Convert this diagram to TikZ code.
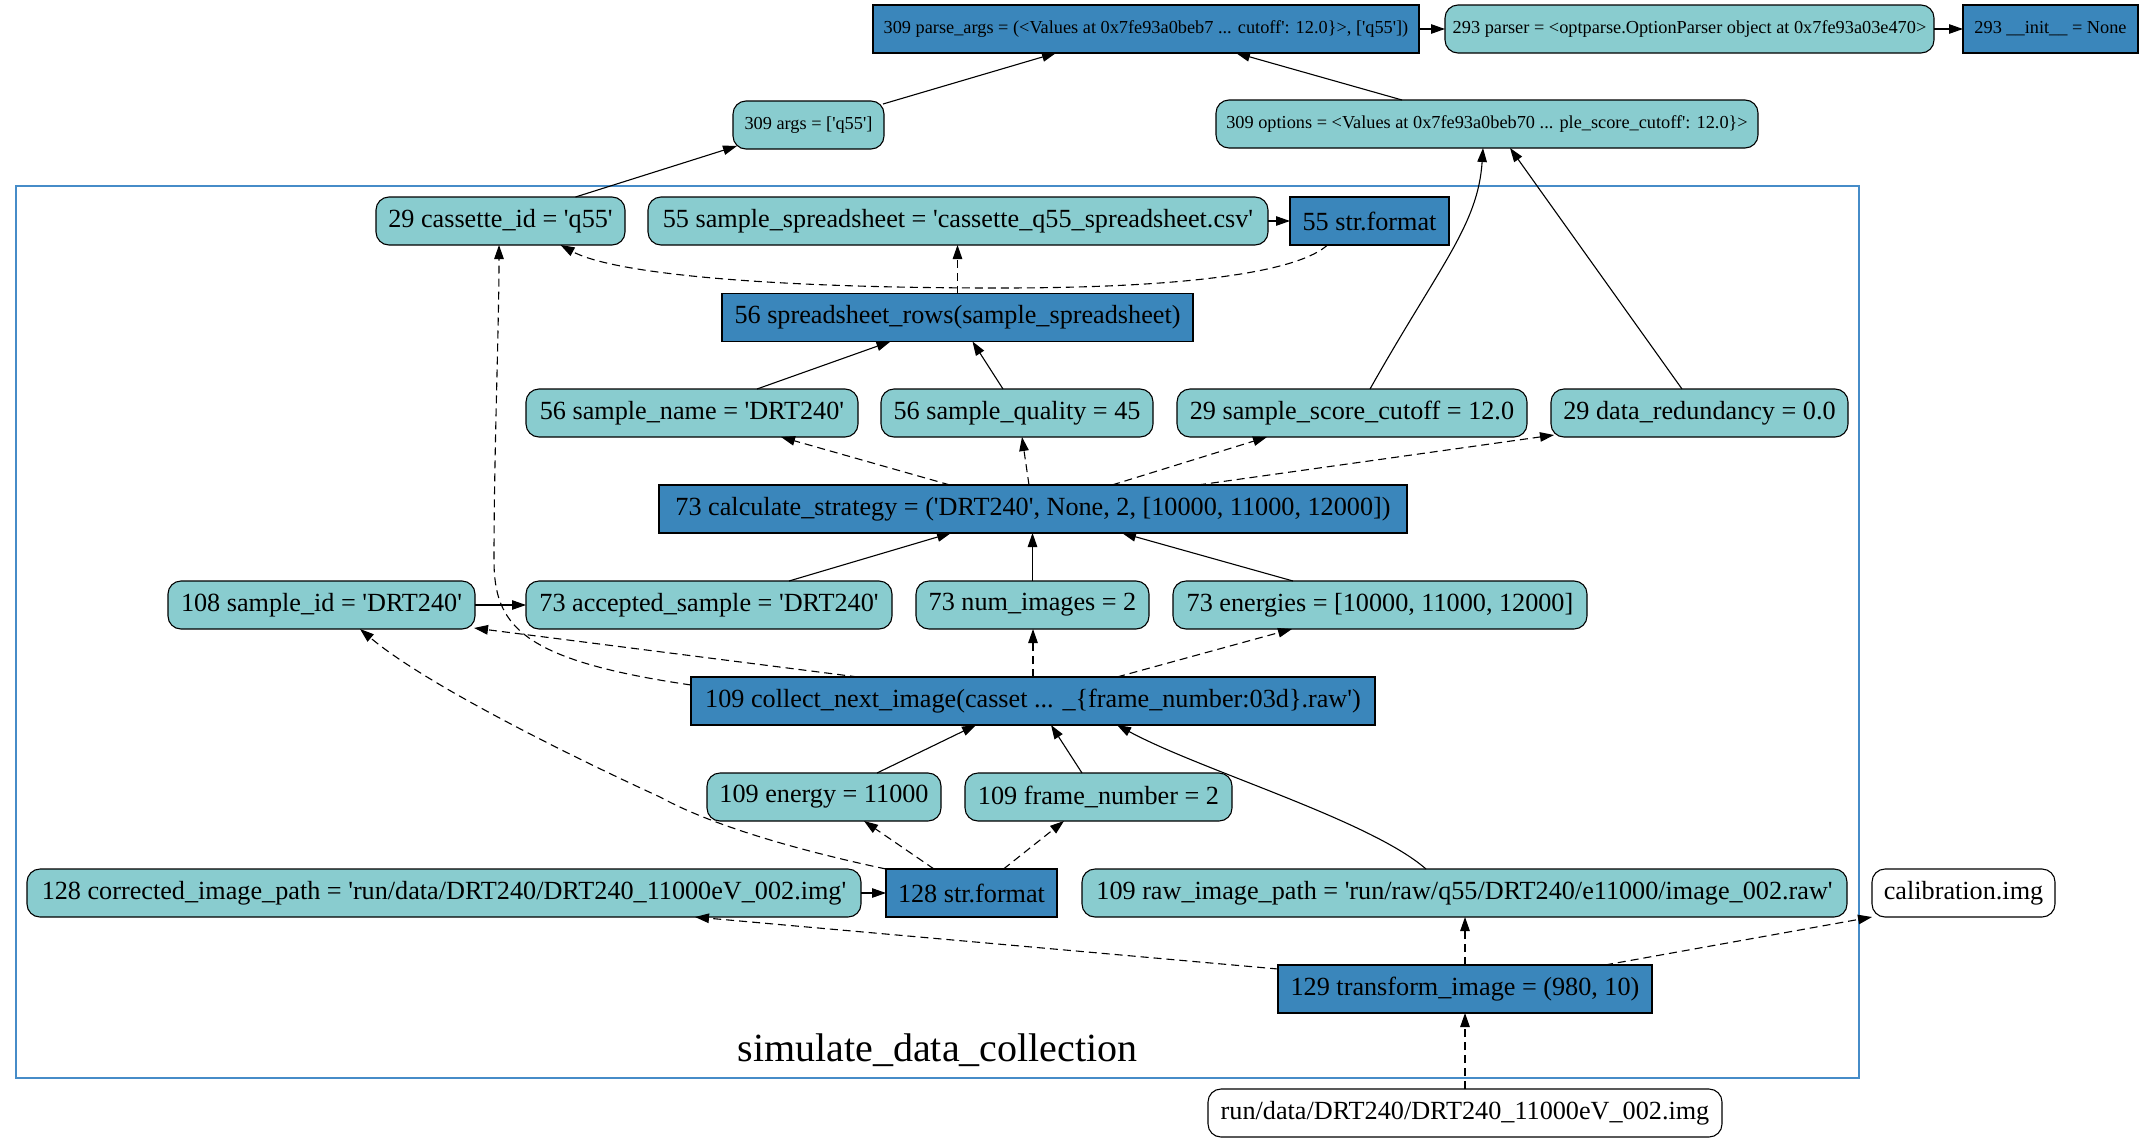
\documentclass[tikz,border=0pt]{standalone}
\usepackage{fontspec}
\setmainfont{Liberation Serif}
\usetikzlibrary{arrows.meta,calc}
\newcommand\q{\textquotesingle}
\newcommand\nfont{\fontsize{26.2}{30}\selectfont}
\newcommand\sfont{\fontsize{18.3}{21}\selectfont}
\newcommand\lfont{\fontsize{40}{46}\selectfont}
\definecolor{tealc}{RGB}{137,204,207}
\definecolor{bluec}{RGB}{58,134,187}
\definecolor{clustc}{RGB}{70,140,200}
\tikzset{
  nd/.style={draw=black, line width=1.1pt, minimum height=48pt, inner sep=0pt, outer sep=0pt, font=\nfont, anchor=center},
  valbox/.style={nd, fill=tealc, rounded corners=13pt},
  callbox/.style={nd, fill=bluec},
  filebox/.style={nd, fill=white, rounded corners=13pt},
  smtext/.style={font=\sfont},
  edg/.style={draw=black, line width=1.1pt, -{Triangle[length=14pt,width=9.5pt]}},
  dedg/.style={edg, dash pattern=on 8pt off 5pt},
}
\begin{document}
\begin{tikzpicture}[x=1pt,y=-1pt]
\path[use as bounding box] (0,0) rectangle (2143,1143);
% cluster
\draw[clustc, line width=1.2pt] (16,186) rectangle (1859,1078);
\node[font=\lfont, anchor=base, inner sep=0pt] (clabel) at (937.5,1061) {simulate\_data\_collection};
% top
\node[callbox,smtext,minimum width=546pt] (pa) at (1146,29) {309 parse\_args = (<Values at 0x7fe93a0beb7 ... cutoff\q: 12.0\}>, [\q q55\q])};
\node[valbox,smtext,minimum width=489pt] (parser) at (1689.5,29) {293 parser = <optparse.OptionParser object at 0x7fe93a03e470>};
\node[callbox,smtext,minimum width=175pt] (init) at (2050.5,29) {293 \_\_init\_\_ = None};
\node[valbox,smtext,minimum width=151pt] (args) at (808.5,125) {309 args = [\q q55\q]};
\node[valbox,smtext,minimum width=542pt] (opts) at (1487,124) {309 options = <Values at 0x7fe93a0beb70 ... ple\_score\_cutoff\q: 12.0\}>};
% cluster nodes
\node[valbox,minimum width=249pt] (cid) at (500.5,221) {29 cassette\_id = \q q55\q};
\node[valbox,minimum width=620pt] (ss) at (958,221) {55 sample\_spreadsheet = \q cassette\_q55\_spreadsheet.csv\q};
\node[callbox,minimum width=159pt] (sf55) at (1369.5,221) {55 str.format};
\node[callbox,minimum width=471pt] (sr) at (957.5,317.5) {56 spreadsheet\_rows(sample\_spreadsheet)};
\node[valbox,minimum width=332pt] (sn) at (692,413) {56 sample\_name = \q DRT240\q};
\node[valbox,minimum width=272pt] (sq) at (1017,413) {56 sample\_quality = 45};
\node[valbox,minimum width=350pt] (sc) at (1352,413) {29 sample\_score\_cutoff = 12.0};
\node[valbox,minimum width=297pt] (dr) at (1699.5,413) {29 data\_redundancy = 0.0};
\node[callbox,minimum width=748pt] (calc) at (1033,509) {73 calculate\_strategy = (\q DRT240\q, None, 2, [10000, 11000, 12000])};
\node[valbox,minimum width=307pt] (sid) at (321.5,605) {108 sample\_id = \q DRT240\q};
\node[valbox,minimum width=366pt] (acc) at (709,605) {73 accepted\_sample = \q DRT240\q};
\node[valbox,minimum width=233pt] (ni) at (1032.5,605) {73 num\_images = 2};
\node[valbox,minimum width=414pt] (en) at (1380,605) {73 energies = [10000, 11000, 12000]};
\node[callbox,minimum width=684pt] (col) at (1033,701) {109 collect\_next\_image(casset ... \_\{frame\_number:03d\}.raw\q)};
\node[valbox,minimum width=234pt] (egy) at (824,797) {109 energy = 11000};
\node[valbox,minimum width=267pt] (fnum) at (1098.5,797) {109 frame\_number = 2};
\node[valbox,minimum width=834pt] (cor) at (444,893) {128 corrected\_image\_path = \q run/data/DRT240/DRT240\_11000eV\_002.img\q};
\node[callbox,minimum width=171pt] (sf128) at (971.5,893) {128 str.format};
\node[valbox,minimum width=765pt] (raw) at (1464.5,893) {109 raw\_image\_path = \q run/raw/q55/DRT240/e11000/image\_002.raw\q};
\node[filebox,minimum width=183pt] (cal) at (1963.5,893) {calibration.img};
\node[callbox,minimum width=374pt] (tr) at (1465,989) {129 transform\_image = (980, 10)};
\node[filebox,minimum width=514pt] (rd) at (1465,1113) {run/data/DRT240/DRT240\_11000eV\_002.img};
% edges
\draw[edg] ($(args.north east)+(-1,3)$) -- ($(pa.south)+(-90,0)$);
\draw[edg] ($(opts.north)+(-85,0)$) -- ($(pa.south)+(90,0)$);
\draw[edg] (pa.east) -- (parser.west);
\draw[edg] (parser.east) -- (init.west);
\draw[edg] ($(cid.north)+(75,0)$) -- ($(args.south west)+(4,-3)$);
\draw[edg] (ss.east) -- (sf55.west);
\draw[dedg] ($(sf55.south)+(-42,0)$) .. controls (1300,270) and (1200,288) .. (1000,288) .. controls (750,288) and (610,272) .. ($(cid.south)+(60,0)$);
\draw[dedg] (sr.north) -- (sr.north |- ss.south);
\draw[edg] ($(sn.north)+(65,0)$) -- ($(sr.south)+(-67,0)$);
\draw[edg] ($(sq.north)+(-14,0)$) -- ($(sr.south)+(15,0)$);
\draw[edg] ($(sc.north)+(18,0)$) .. controls (1440,265) and (1478,225) .. ($(opts.south)+(-4,0)$);
\draw[edg] ($(dr.north)+(-17.5,0)$) -- ($(opts.south)+(23,0)$);
\draw[dedg] ($(calc.north)+(-83,0)$) -- ($(sn.south)+(89,0)$);
\draw[dedg] ($(calc.north)+(-4,0)$) -- ($(sq.south)+(5,0)$);
\draw[dedg] ($(calc.north)+(79,0)$) -- ($(sc.south)+(-85,0)$);
\draw[dedg] ($(calc.north)+(165,0)$) -- ($(dr.south west)+(3,-2)$);
\draw[edg] ($(acc.north)+(80,0)$) -- ($(calc.south)+(-82,0)$);
\draw[edg] (ni.north) -- (ni.north |- calc.south);
\draw[edg] ($(en.north)+(-87,0)$) -- ($(calc.south)+(89,0)$);
\draw[edg] (sid.east) -- (acc.west);
\draw[dedg] ($(col.north west)+(0,8)$) .. controls (520,660) and (494,625) .. (494,560) .. controls (494,450) and (499,330) .. ($(cid.south)+(-1.5,0)$);
\draw[dedg] ($(col.north)+(-175,0)$) -- ($(sid.south east)+(-1,-1)$);
\draw[dedg] (col.north) -- (col.north |- ni.south);
\draw[dedg] ($(col.north)+(84,0)$) -- ($(en.south)+(-88,0)$);
\draw[edg] ($(egy.north)+(53,0)$) -- ($(col.south)+(-57,0)$);
\draw[edg] ($(fnum.north)+(-16.5,0)$) -- ($(col.south)+(18,0)$);
\draw[edg] ($(raw.north)+(-38.5,0)$) .. controls (1370,820) and (1200,770) .. ($(col.south)+(84,0)$);
\draw[dedg] (sf128.north west) .. controls (820,855) and (720,830) .. (660,797) .. controls (590,765) and (430,688) .. ($(sid.south)+(38.5,0)$);
\draw[dedg] ($(sf128.north)+(-37.5,0)$) -- ($(egy.south)+(40,0)$);
\draw[dedg] ($(sf128.north)+(32,0)$) -- ($(fnum.south)+(-34.5,0)$);
\draw[edg] (cor.east) -- (sf128.west);
\draw[dedg] ($(tr.north west)+(0,4)$) -- ($(cor.south)+(251,0)$);
\draw[dedg] (tr.north) -- (tr.north |- raw.south);
\draw[dedg] ($(tr.north)+(140,0)$) -- (cal.south west);
\draw[dedg] (rd.north) -- (tr.south);
\end{tikzpicture}
\end{document}
